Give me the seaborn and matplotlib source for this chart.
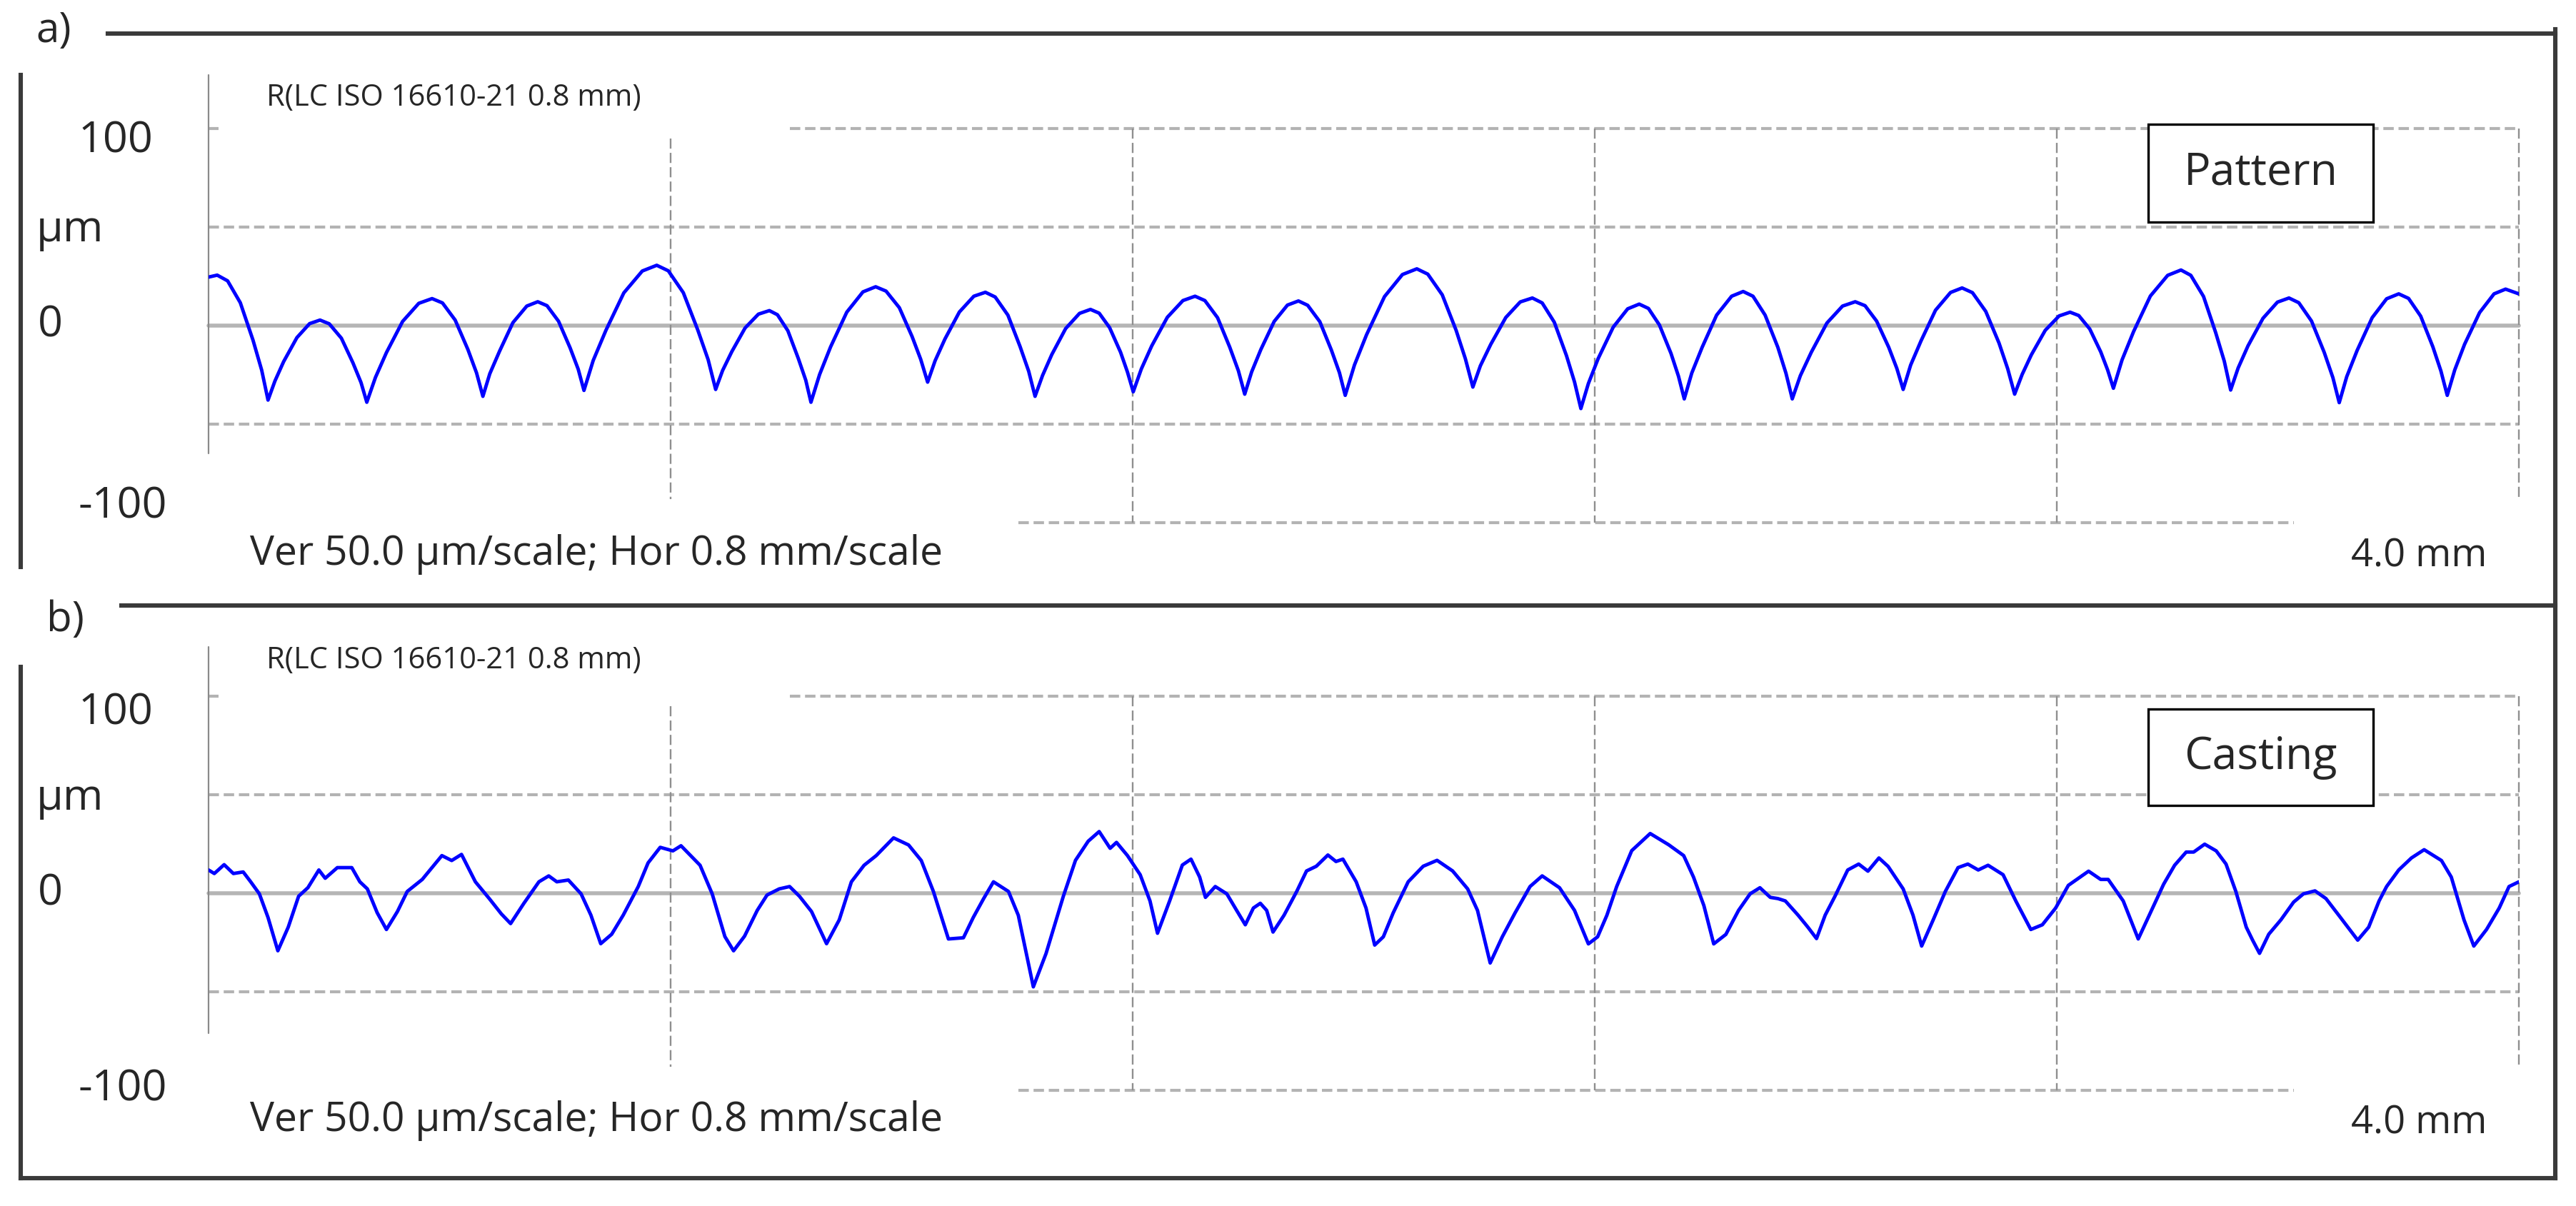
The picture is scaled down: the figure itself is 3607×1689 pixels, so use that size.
import pandas as pd
import seaborn as sns
import matplotlib.pyplot as plt
from matplotlib.lines import Line2D
from matplotlib.patches import Rectangle

# profile a) pattern: position (mm) and height (um)
pattern_x = [0.000, 0.015, 0.033, 0.055, 0.077, 0.092, 0.103,
             0.115, 0.130, 0.153, 0.175, 0.193, 0.209, 0.230, 0.250, 0.264, 0.274,
             0.289, 0.308, 0.336, 0.364, 0.387, 0.405, 0.427, 0.449, 0.464, 0.475,
             0.487, 0.504, 0.527, 0.551, 0.570, 0.586, 0.606, 0.626, 0.640, 0.650,
             0.666, 0.688, 0.719, 0.751, 0.776, 0.796, 0.822, 0.847, 0.865, 0.878,
             0.890, 0.906, 0.929, 0.952, 0.971, 0.985, 1.003, 1.021, 1.034, 1.043,
             1.058, 1.077, 1.105, 1.133, 1.155, 1.173, 1.196, 1.218, 1.233, 1.245,
             1.258, 1.275, 1.300, 1.325, 1.345, 1.362, 1.384, 1.405, 1.420, 1.431,
             1.444, 1.460, 1.484, 1.508, 1.527, 1.542, 1.560, 1.579, 1.591, 1.601,
             1.615, 1.633, 1.660, 1.687, 1.708, 1.725, 1.747, 1.768, 1.783, 1.794,
             1.806, 1.822, 1.845, 1.868, 1.887, 1.903, 1.924, 1.944, 1.958, 1.968,
             1.984, 2.005, 2.036, 2.067, 2.092, 2.111, 2.136, 2.160, 2.176, 2.189,
             2.202, 2.220, 2.246, 2.271, 2.292, 2.309, 2.330, 2.351, 2.365, 2.376,
             2.389, 2.406, 2.432, 2.457, 2.477, 2.493, 2.512, 2.532, 2.545, 2.555,
             2.568, 2.586, 2.611, 2.637, 2.657, 2.674, 2.695, 2.717, 2.731, 2.742,
             2.756, 2.775, 2.802, 2.829, 2.851, 2.868, 2.888, 2.909, 2.923, 2.934,
             2.947, 2.965, 2.990, 3.016, 3.036, 3.054, 3.077, 3.100, 3.115, 3.127,
             3.140, 3.156, 3.180, 3.204, 3.223, 3.238, 3.257, 3.276, 3.288, 3.298,
             3.313, 3.333, 3.362, 3.392, 3.415, 3.432, 3.454, 3.475, 3.490, 3.501,
             3.514, 3.531, 3.557, 3.582, 3.602, 3.619, 3.641, 3.663, 3.678, 3.689,
             3.702, 3.720, 3.746, 3.771, 3.792, 3.809, 3.830, 3.851, 3.865, 3.876,
             3.889, 3.906, 3.932, 3.957, 3.977, 4.000]
pattern_um = [24.5, 25.5, 22.6, 11.5, -7.5, -22.7, -37.9,
              -28.2, -18.4, -6.2, 0.9, 2.7, 0.8, -6.5, -19.0, -29.0, -39.0,
              -26.4, -13.8, 2.0, 11.2, 13.6, 11.4, 2.7, -12.2, -24.1, -36.0,
              -24.5, -13.0, 1.4, 9.8, 12.0, 10.0, 2.1, -11.4, -22.2, -33.0,
              -17.8, -2.5, 16.5, 27.6, 30.5, 27.7, 16.6, -2.3, -17.4, -32.5,
              -22.9, -13.3, -1.3, 5.7, 7.5, 5.4, -2.7, -16.7, -27.8, -39.0,
              -24.9, -10.9, 6.7, 17.0, 19.6, 17.4, 9.0, -5.6, -17.2, -28.8,
              -17.9, -6.9, 6.8, 14.8, 16.8, 14.4, 5.2, -10.7, -23.3, -36.0,
              -25.4, -14.8, -1.6, 6.1, 8.1, 6.2, -1.1, -13.6, -23.7, -33.7,
              -22.1, -10.4, 4.1, 12.6, 14.8, 12.6, 3.9, -11.0, -23.0, -34.9,
              -23.6, -12.2, 2.0, 10.3, 12.4, 10.2, 1.9, -12.5, -24.0, -35.5,
              -20.1, -4.7, 14.6, 25.8, 28.7, 26.0, 15.5, -2.5, -16.9, -31.3,
              -20.5, -9.6, 4.0, 11.9, 13.9, 11.4, 1.6, -15.3, -28.7, -42.2,
              -29.5, -16.8, -0.9, 8.4, 10.8, 8.6, 0.2, -14.2, -25.8, -37.3,
              -24.2, -11.1, 5.2, 14.8, 17.2, 14.8, 5.2, -11.1, -24.2, -37.3,
              -25.5, -13.6, 1.2, 9.8, 12.0, 10.0, 2.2, -11.1, -21.8, -32.5,
              -20.1, -7.8, 7.7, 16.7, 19.0, 16.6, 7.1, -9.0, -22.0, -34.9,
              -24.9, -14.9, -2.5, 4.8, 6.7, 5.0, -1.8, -13.4, -22.6, -31.9,
              -17.5, -3.1, 14.9, 25.4, 28.1, 25.4, 14.7, -3.6, -18.2, -32.8,
              -21.6, -10.4, 3.6, 11.8, 13.9, 11.5, 2.2, -13.7, -26.5, -39.2,
              -26.0, -12.7, 3.9, 13.5, 16.0, 13.7, 4.7, -10.8, -23.1, -35.5,
              -22.6, -9.6, 6.5, 16.0, 18.4, 16.0]

# profile b) casting
casting_x = [0.000, 0.010, 0.027, 0.043, 0.060, 0.073, 0.088, 0.103, 0.120, 0.138,
             0.156, 0.172, 0.191, 0.202, 0.223, 0.248, 0.262, 0.275, 0.292, 0.308,
             0.327, 0.344, 0.370, 0.404, 0.421, 0.438, 0.462, 0.486, 0.507, 0.523,
             0.546, 0.572, 0.589, 0.603, 0.623, 0.645, 0.662, 0.679, 0.698, 0.718,
             0.744, 0.761, 0.782, 0.804, 0.818, 0.851, 0.872, 0.894, 0.909, 0.928,
             0.950, 0.967, 0.988, 1.006, 1.023, 1.044, 1.070, 1.092, 1.113, 1.135,
             1.156, 1.186, 1.212, 1.234, 1.255, 1.281, 1.307, 1.324,
             1.342, 1.359, 1.385, 1.402, 1.428, 1.450, 1.480, 1.501, 1.523, 1.542,
             1.561, 1.572, 1.591, 1.613, 1.630, 1.643, 1.664, 1.686, 1.701, 1.716,
             1.726, 1.743, 1.763, 1.780, 1.795, 1.809, 1.821, 1.832, 1.843, 1.862,
             1.884, 1.901, 1.918, 1.938, 1.952, 1.964, 1.987, 2.004, 2.019, 2.034,
             2.051, 2.077, 2.103, 2.127, 2.154, 2.180, 2.197, 2.219, 2.240, 2.262,
             2.288, 2.309, 2.339, 2.365, 2.389, 2.405, 2.421, 2.438, 2.464, 2.496,
             2.528, 2.554, 2.571, 2.589, 2.606, 2.627, 2.649,
             2.669, 2.686, 2.704, 2.717, 2.730, 2.752, 2.769, 2.784, 2.799, 2.816,
             2.838, 2.857, 2.873, 2.892, 2.908, 2.934, 2.951, 2.966, 2.986, 3.007,
             3.029, 3.046, 3.064, 3.081, 3.107, 3.129, 3.155, 3.175, 3.198, 3.220,
             3.255, 3.276, 3.289, 3.315, 3.341, 3.363, 3.385, 3.404, 3.424, 3.437,
             3.456, 3.476, 3.493, 3.510, 3.528, 3.539, 3.551, 3.567, 3.588, 3.610,
             3.627, 3.647, 3.666, 3.688, 3.721, 3.740, 3.758, 3.771, 3.792, 3.814,
             3.836, 3.866, 3.883, 3.905, 3.922, 3.944, 3.966, 3.983, 4.000]
casting_um = [11.7, 9.9, 14.4, 9.9, 10.7, 5.7, -0.4, -12.4, -29.3, -17.3,
              -1.6, 2.7, 11.7, 7.5, 12.9, 12.9, 5.7, 2.1, -10.0, -18.5,
              -9.4, 0.8, 6.9, 19.0, 16.5, 19.6, 5.7, -2.8, -10.6, -15.5,
              -5.2, 5.7, 8.7, 5.7, 6.6, -0.4, -11.2, -25.7, -20.9, -11.2,
              3.3, 15.3, 23.2, 21.4, 24.0, 14.1, -0.4, -22.1, -29.3, -21.9,
              -8.8, -1.0, 2.1, 3.3, -1.6, -9.4, -25.7, -13.6, 5.7, 14.1,
              19.0, 28.0, 24.4, 16.5, 0.8, -23.3, -22.7, -12.4,
              -2.8, 5.7, 0.8, -11.3, -47.6, -30.7, -1.6, 16.6, 26.3, 31.2,
              22.7, 25.7, 19.0, 9.3, -4.0, -20.4, -4.0, 14.2, 17.2, 8.1,
              -2.2, 3.3, -0.4, -8.8, -16.1, -7.6, -5.2, -8.8, -19.8, -11.3,
              0.8, 11.2, 13.6, 19.3, 16.0, 17.2, 5.7, -7.6, -26.4, -22.2,
              -10.1, 5.7, 13.6, 16.6, 11.2, 2.1, -8.8, -35.5, -22.2, -10.1,
              3.3, 8.7, 2.7, -8.8, -25.8, -22.2, -11.3, 3.3, 21.5, 30.2,
              24.5, 19.0, 8.1, -6.4, -25.8, -21.0, -8.8,
              -0.4, 2.7, -2.2, -2.8, -4.0, -11.2, -17.3, -23.1, -11.2, -1.6,
              11.7, 14.7, 11.1, 17.8, 13.5, 2.1, -11.2, -26.9, -13.6, 0.8,
              12.9, 14.7, 11.7, 14.1, 9.3, -4.0, -18.5, -16.1, -7.6, 3.9,
              11.1, 6.9, 6.9, -4.0, -23.3, -9.4, 4.5, 14.1, 20.8, 20.8,
              24.8, 21.4, 14.7, 0.8, -17.3, -23.9, -30.6, -20.9, -13.6, -4.6,
              -0.4, 1.1, -2.8, -11.2, -23.9, -17.3, -4.0, 3.3, 11.7, 17.8,
              22.0, 16.5, 8.1, -13.6, -26.9, -18.5, -7.6, 3.3, 5.7]

grid_x = [0.8, 1.6, 2.4, 3.2, 4.0]
y_labels = ["100", "µm", "0", "-100"]
panel_tags = ["a)", "b)"]
sample_names = ["Pattern", "Casting"]
filter_text = "R(LC ISO 16610-21 0.8 mm)"
scale_text = "Ver 50.0 µm/scale; Hor 0.8 mm/scale"
length_text = "4.0 mm"

W, H = 3607, 1689
sns.set_theme(style="white")
plt.rcParams['font.family'] = ['Open Sans', 'DejaVu Sans']

fig = plt.figure(figsize=(W / 100, H / 100), dpi=100)


def fx(p):
    return p / W


def fy(p):
    return 1 - p / H


def frame(x0, y0, x1, y1):
    fig.add_artist(Line2D([fx(x0), fx(x1)], [fy(y0), fy(y1)], color='#3a3a3a',
                          lw=4.4, solid_capstyle='projecting'))


# outer frame of the two panels
frame(151, 47, 3578, 47)
frame(170, 848, 3578, 848)
frame(29, 1650, 3578, 1650)
frame(3578, 41, 3578, 1650)
frame(29, 105, 29, 794)
frame(29, 934, 29, 1650)

hdash = dict(color='#b3b3b3', lw=3.0, dashes=(3.5, 1.6), clip_on=False, zorder=1)
vdash = dict(color='#8f8f8f', lw=1.7, dashes=(6, 2.5), clip_on=False, zorder=1)

profiles = [(pattern_x, pattern_um), (casting_x, casting_um)]
zero_px = [455.7, 1250.7]
left_line = [(127, -65), (125, -71)]
# text anchor rows (pixel y of each label) for the two panels
tag_y = [44, 869]
filter_y = [137, 925]
label_y = [(198, 322, 456, 710), (999, 1118, 1251, 1525)]
scale_y = [776, 1570]
box_y = [(174, 311), (993, 1128)]

for i, (xs, ys) in enumerate(profiles):
    z = zero_px[i]
    ax = fig.add_axes([fx(292), fy(z + 276), 3235 / W, 552 / H])

    # grid of the profilometer printout
    ax.plot([0, 0.017], [100, 100], **hdash)
    ax.plot([1.007, 4.0], [100, 100], **hdash)
    ax.plot([0, 4.0], [50, 50], **hdash)
    ax.plot([0, 4.0], [-50, -50], **hdash)
    ax.plot([1.402, 3.611], [-100, -100], **hdash)
    ax.plot([0, 4.0], [0, 0], color='#b5b5b5', lw=4, clip_on=False, zorder=1)
    for gx in grid_x:
        top = 95 if gx == 0.8 else 100
        bot = -88 if gx in (0.8, 4.0) else -100
        ax.plot([gx, gx], [top, bot], **vdash)
    ax.plot([0, 0], list(left_line[i]), color='#8a8a8a', lw=1.6, clip_on=False, zorder=1)

    df = pd.DataFrame({'mm': xs, 'um': ys})
    sns.lineplot(data=df, x='mm', y='um', ax=ax, color='#0000ff', lw=3.5,
                 estimator=None, sort=False, zorder=3)
    ax.lines[-1].set_solid_joinstyle('round')
    ax.set_xlim(0, 4.0)
    ax.set_ylim(-100, 100)
    ax.axis('off')

    fig.text(fx(50 + 15 * i), fy(tag_y[i]), panel_tags[i], fontsize=42, va='center', ha='left')
    fig.text(fx(373), fy(filter_y[i]), filter_text, fontsize=30, va='center', ha='left')
    ly = label_y[i]
    fig.text(fx(214), fy(ly[0]), y_labels[0], fontsize=44, va='center', ha='right')
    fig.text(fx(51), fy(ly[1]), y_labels[1], fontsize=44, va='center', ha='left')
    fig.text(fx(53), fy(ly[2]), y_labels[2], fontsize=44, va='center', ha='left')
    fig.text(fx(234), fy(ly[3]), y_labels[3], fontsize=44, va='center', ha='right')
    fig.text(fx(350), fy(scale_y[i]), scale_text, fontsize=41, va='center', ha='left')
    fig.text(fx(3482), fy(scale_y[i] + 3), length_text, fontsize=39, va='center', ha='right')

    bx0, bx1 = 3008, 3323
    by0, by1 = box_y[i]
    fig.add_artist(Rectangle((fx(bx0), fy(by1)), fx(bx1) - fx(bx0), fy(by0) - fy(by1),
                             transform=fig.transFigure, facecolor='white',
                             edgecolor='black', lw=2.4, zorder=5))
    fig.text(fx((bx0 + bx1) / 2), fy((by0 + by1) / 2), sample_names[i], fontsize=45,
             va='center', ha='center', zorder=6)

fig.savefig('out.png', dpi=100, facecolor='white')
